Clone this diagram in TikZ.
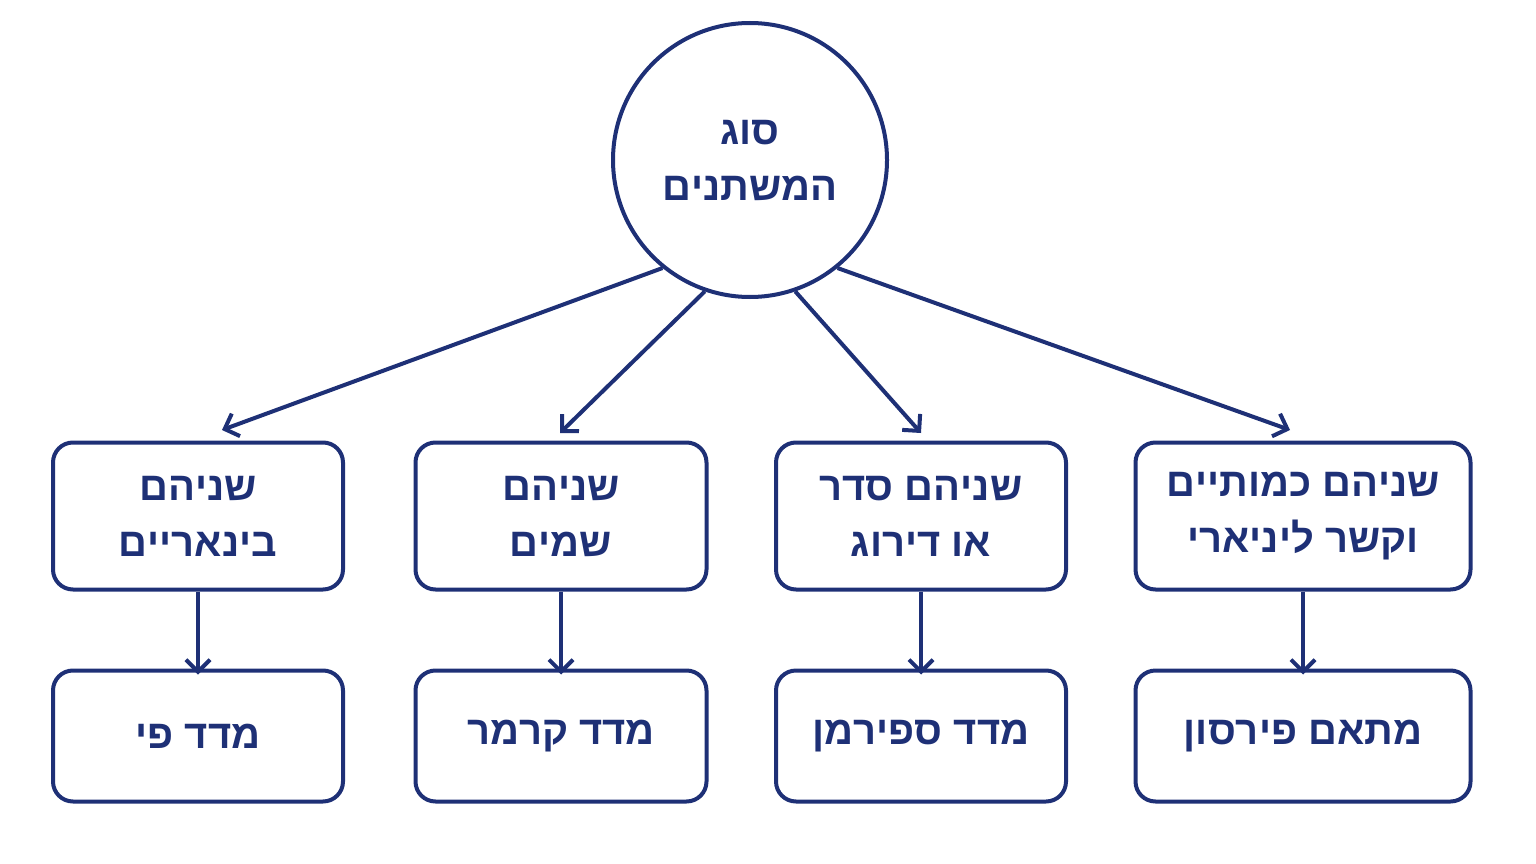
\documentclass[tikz,border=0pt]{standalone}
\usepackage{fontspec}
\setmainfont{Liberation Sans}
\usetikzlibrary{arrows.meta}
\definecolor{navy}{RGB}{30,48,118}
\TeXXeTstate=1
\newcommand{\heb}[1]{\beginR #1\endR}
\tikzset{
  box/.style={draw=navy, line width=4pt, rounded corners=20pt, text=navy, align=center, font=\fontsize{40}{56}\selectfont\bfseries},
  arr/.style={draw=navy, line width=4pt, -{Straight Barb[length=12pt,width=24pt,line width=4pt]}}
}
\begin{document}
\begin{tikzpicture}[x=1pt,y=-1pt]
\useasboundingbox (0,0) rectangle (1536,864);

% root
\node[box, circle, minimum size=274pt, inner sep=0pt] (root) at (750,160) {\heb{סוג}\\\heb{המשתנים}};

% top row
\node[box, minimum width=290pt, minimum height=147pt] (bin) at (198,516) {\heb{שניהם}\\\heb{בינאריים}};
\node[box, minimum width=291pt, minimum height=147pt] (nom) at (561,516) {\heb{שניהם}\\\heb{שמים}};
\node[box, minimum width=290pt, minimum height=147pt] (ord) at (921,516) {\heb{שניהם סדר}\\\heb{או דירוג}};
\node[box, minimum width=335pt, minimum height=147pt] (lin) at (1303,516) {\heb{שניהם כמותיים}\\\heb{וקשר ליניארי}};

% bottom row
\node[box, minimum width=290pt, minimum height=131pt] (phi) at (198,736) {\heb{מדד פי}};
\node[box, minimum width=291pt, minimum height=131pt] (cra) at (561,736) {\heb{מדד קרמר}};
\node[box, minimum width=290pt, minimum height=131pt] (spe) at (921,736) {\heb{מדד ספירמן}};
\node[box, minimum width=335pt, minimum height=131pt] (pea) at (1303,736) {\heb{מתאם פירסון}};

\coordinate (tbin) at (222,430);
\coordinate (tnom) at (560,433);
\coordinate (tord) at (921,433);
\coordinate (tlin) at (1290,430);

\draw[arr] (root.231) -- (tbin);
\draw[arr] (root.251) -- (tnom);
\draw[arr] (root.289) -- (tord);
\draw[arr] (root.309) -- (tlin);

\foreach \a/\b in {bin/phi, nom/cra, ord/spe, lin/pea}
  \draw[arr] (\a) -- ([yshift=-6pt]\b.north);
\end{tikzpicture}
\end{document}
